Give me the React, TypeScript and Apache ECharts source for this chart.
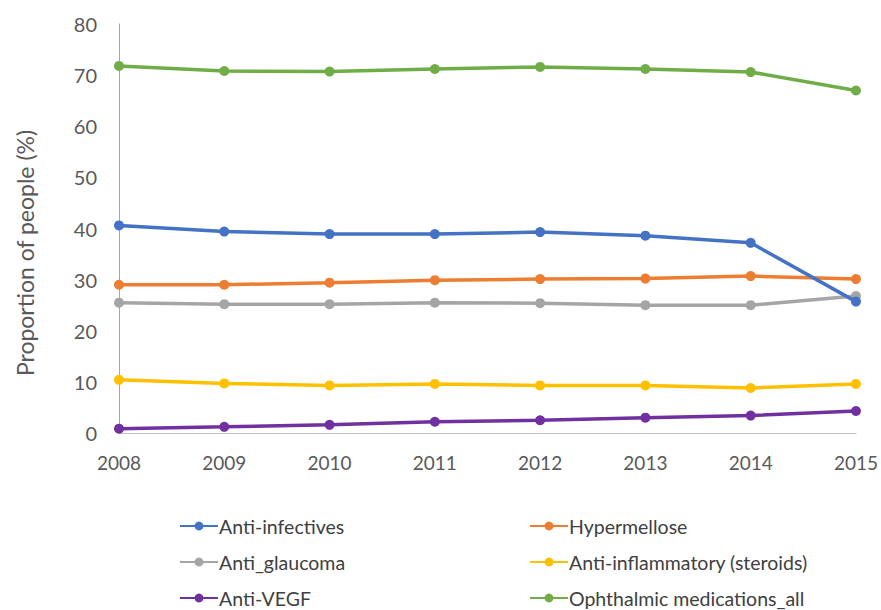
import React, { useEffect, useRef } from "react";
import * as echarts from "echarts";

const years = ["2008", "2009", "2010", "2011", "2012", "2013", "2014", "2015"];
const antiInfectives = [40.6, 39.4, 38.9, 38.9, 39.3, 38.6, 37.2, 25.7];
const hypermellose = [29.0, 29.0, 29.4, 29.9, 30.1, 30.2, 30.7, 30.1];
const antiGlaucoma = [25.5, 25.2, 25.2, 25.5, 25.4, 25.0, 25.0, 26.8];
const antiInflammatory = [10.4, 9.7, 9.3, 9.6, 9.3, 9.3, 8.8, 9.6];
const antiVEGF = [0.85, 1.2, 1.6, 2.2, 2.5, 3.0, 3.4, 4.3];
const ophthalmicAll = [71.8, 70.8, 70.7, 71.2, 71.6, 71.2, 70.6, 67.0];

const seriesNames = [
  "Anti-infectives",
  "Hypermellose",
  "Anti_glaucoma",
  "Anti-inflammatory (steroids)",
  "Anti-VEGF",
  "Ophthalmic medications_all",
];
const seriesData = [antiInfectives, hypermellose, antiGlaucoma, antiInflammatory, antiVEGF, ophthalmicAll];
const colors = ["#4472C4", "#ED7D31", "#A5A5A5", "#FFC000", "#7030A0", "#70AD47"];

const FONT = "Lato, 'Noto Sans', sans-serif";

export default function App() {
  const ref = useRef<HTMLDivElement>(null);
  useEffect(() => {
    if (!ref.current) return;
    const chart = echarts.init(ref.current, null, { renderer: "svg" });
    const legendPos = [
      { left: 179, top: 516 },
      { left: 529, top: 516 },
      { left: 179, top: 552 },
      { left: 529, top: 552 },
      { left: 179, top: 588 },
      { left: 529, top: 588 },
    ];
    chart.setOption({
      animation: false,
      backgroundColor: "#ffffff",
      textStyle: { fontFamily: FONT },
      grid: { left: 119, right: 25, top: 24, bottom: 177, containLabel: false },
      legend: seriesNames.map((n, i) => ({
        data: [n],
        left: legendPos[i].left,
        top: legendPos[i].top,
        itemWidth: 38,
        itemHeight: 11,
        itemGap: 2,
        padding: 0,
        textStyle: {
          fontFamily: FONT,
          fontSize: 19.5,
          lineHeight: 20,
          color: "#404040",
          padding: [0, 0, 0, -4],
        },
      })),
      xAxis: {
        type: "category",
        data: years,
        boundaryGap: false,
        axisLine: { show: true, lineStyle: { color: "#BFBFBF", width: 1 } },
        axisTick: { show: false },
        axisLabel: { fontSize: 19, color: "#595959", margin: 20, fontFamily: FONT },
        splitLine: { show: false },
      },
      yAxis: {
        type: "value",
        min: 0,
        max: 80,
        interval: 10,
        axisLine: { show: true, lineStyle: { color: "#A6A6A6", width: 1 } },
        axisTick: { show: false },
        axisLabel: { fontSize: 20, color: "#595959", margin: 22, fontFamily: FONT },
        splitLine: { show: false },
      },
      graphic: [
        {
          type: "text",
          x: 25,
          y: 253,
          rotation: Math.PI / 2,
          style: {
            text: "Proportion of people (%)",
            fontSize: 23,
            fontFamily: FONT,
            fill: "#595959",
            align: "center",
            verticalAlign: "middle",
          },
        },
      ],
      series: seriesNames.map((n, i) => ({
        name: n,
        type: "line",
        data: seriesData[i],
        symbol: "circle",
        symbolSize: 10,
        lineStyle: { width: 3.5, color: colors[i] },
        itemStyle: { color: colors[i] },
        z: 10 - i,
      })),
    });
    return () => chart.dispose();
  }, []);
  return <div ref={ref} style={{ width: 881, height: 610, position: "absolute", left: 0, top: 0 }} />;
}
